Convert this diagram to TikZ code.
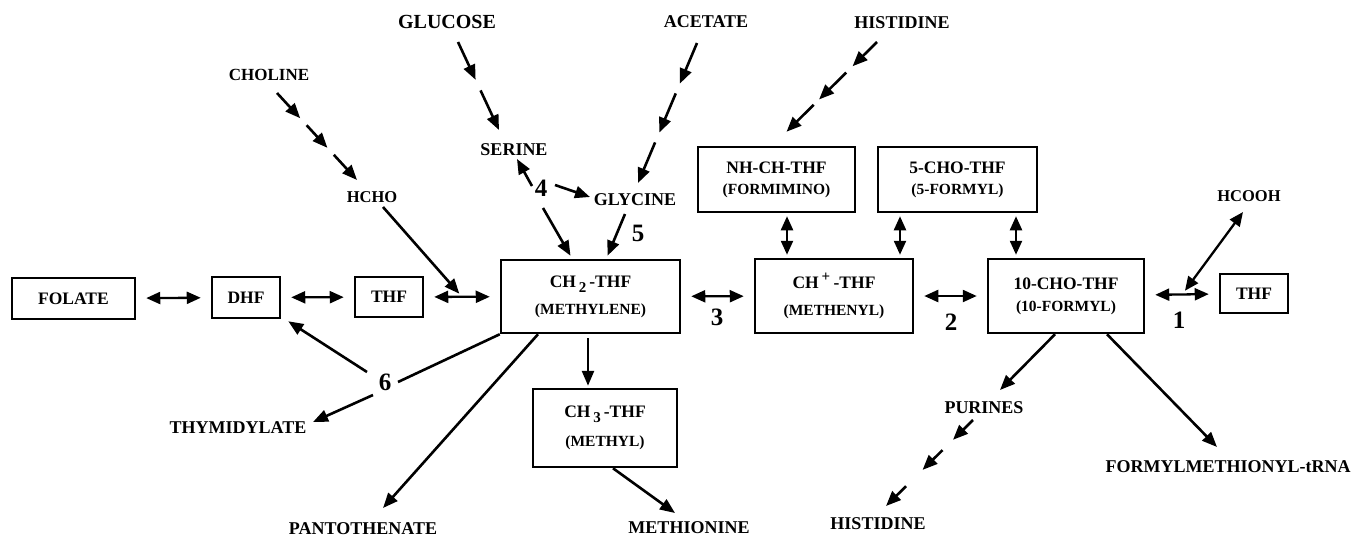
\documentclass[tikz,border=0pt]{standalone}
\usepackage{fontspec}
\setmainfont{Liberation Serif}
\usetikzlibrary{arrows.meta,calc}

\tikzset{
  box/.style={draw, line width=2.5pt, align=center, inner sep=0pt, font=\bfseries\fontsize{17.5}{20}\selectfont},
  lbl/.style={inner sep=1pt, font=\bfseries\fontsize{18}{20}\selectfont},
  num/.style={inner sep=0pt, font=\bfseries\fontsize{25}{27}\selectfont},
  arr/.style={line width=2.6pt, -{Triangle[length=15pt,width=12pt]}},
  bi/.style={line width=2.3pt, {Triangle[length=14pt,width=12pt]}-{Triangle[length=14pt,width=12pt]}},
  dbl/.style={bi, shorten <=10pt, shorten >=10pt},
  vdbl/.style={bi, shorten <=3pt, shorten >=3pt}
}
\newcommand{\subl}[1]{{\fontsize{15.5}{18}\selectfont #1}}
\newcommand{\lowr}[1]{\,\raisebox{-5pt}{\fontsize{15}{15}\selectfont #1}\,}
\newcommand{\steparrows}[3]{\foreach \p/\q in {#3} {\draw[arr] ($(#1)!\p!(#2)$) to ($(#1)!\q!(#2)$);}}

\begin{document}
\begin{tikzpicture}[x=1pt, y=-1pt]
  \useasboundingbox (0,0) rectangle (1353,539);
  \node[box, minimum width=123pt, minimum height=41pt] (fol) at (73.5, 298.5) {FOLATE};
  \node[box, minimum width=68pt, minimum height=41pt] (dhf) at (246, 297.5) {DHF};
  \node[box, minimum width=68pt, minimum height=40pt] (thf) at (389, 297) {THF};
  \node[box, minimum width=179pt, minimum height=73pt] (mle) at (590.5, 296.5) {CH\lowr{2}-THF\\[7pt]\subl{(METHYLENE)}};
  \node[box, minimum width=158pt, minimum height=74pt] (mny) at (834, 296) {CH\,\textsuperscript{\fontsize{15}{15}\selectfont +}\,-THF\\[7pt]\subl{(METHENYL)}};
  \node[box, minimum width=156pt, minimum height=74pt] (fml) at (1066, 296) {10-CHO-THF\\[2pt]\subl{(10-FORMYL)}};
  \node[box, minimum width=68pt, minimum height=39pt] (thr) at (1254, 293.5) {THF};
  \node[box, minimum width=157pt, minimum height=65pt] (fim) at (776.5, 179.5) {NH-CH-THF\\[1pt]\subl{(FORMIMINO)}};
  \node[box, minimum width=159pt, minimum height=65pt] (fiv) at (957.5, 179.5) {5-CHO-THF\\[1pt]\subl{(5-FORMYL)}};
  \node[box, minimum width=144pt, minimum height=78pt] (mth) at (605, 428) {CH\lowr{3}-THF\\[9pt]\subl{(METHYL)}};

  \node[lbl, font=\bfseries\fontsize{20}{22}\selectfont] (glu) at (447, 22) {GLUCOSE};
  \node[lbl] (ace) at (706, 22) {ACETATE};
  \node[lbl] (hit) at (902, 23) {HISTIDINE};
  \node[lbl, font=\bfseries\fontsize{17}{20}\selectfont] (cho) at (269, 75) {CHOLINE};
  \node[lbl] (ser) at (514, 150) {SERINE};
  \node[lbl] (gly) at (635, 200) {GLYCINE};
  \node[lbl, font=\bfseries\fontsize{16.5}{18}\selectfont] (hcho) at (372, 197) {HCHO};
  \node[lbl, font=\bfseries\fontsize{16.5}{18}\selectfont] (hco) at (1249, 196) {HCOOH};
  \node[lbl] (thy) at (238, 428) {THYMIDYLATE};
  \node[lbl] (pan) at (363, 529) {PANTOTHENATE};
  \node[lbl] (met) at (689, 528) {METHIONINE};
  \node[lbl] (pur) at (984, 408) {PURINES};
  \node[lbl] (hib) at (878, 524) {HISTIDINE};
  \node[lbl] (fmt) at (1228, 467) {FORMYLMETHIONYL-tRNA};
  \node[num] (n1) at (1179, 320) {1};
  \node[num] (n2) at (951, 322) {2};
  \node[num] (n3) at (717, 317) {3};
  \node[num] (n4) at (541, 188) {4};
  \node[num] (n5) at (638, 233) {5};
  \node[num] (n6) at (385, 382) {6};

  \draw[dbl] (fol) to (dhf);
  \draw[dbl] (dhf) to (thf);
  \draw[dbl] (thf) to (mle);
  \draw[dbl] (mle) to (mny);
  \draw[dbl] (mny) to (fml);
  \draw[dbl] (fml) to (thr);
  \draw[vdbl] ([xshift=10.5pt]fim.south) to ([xshift=10.5pt]fim.south |- mny.north);
  \draw[vdbl] ([xshift=-57.5pt]fiv.south) to ([xshift=-57.5pt]fiv.south |- mny.north);
  \draw[vdbl] ([xshift=58.5pt]fiv.south) to ([xshift=58.5pt]fiv.south |- fml.north);

  \coordinate (tm) at ($(thf.east)!0.5!(mle.west)$);
  \coordinate (ft) at ($(fml.east)!0.5!(thr.west)$);
  \draw[arr, shorten >=4pt] ([shift={(11,10)}]hcho.center) to (tm);
  \draw[bi, shorten >=5pt] ([shift={(-6,16)}]hco.center) to (ft);

  \coordinate (c1) at ([shift={(8,18)}]cho.center);
  \coordinate (c2) at ([shift={(-15,-17)}]hcho.center);
  \coordinate (g1) at ([shift={(11,20)}]glu.center);
  \coordinate (g2) at ([shift={(-15,-20)}]ser.center);
  \coordinate (a1) at ([shift={(-9,21)}]ace.center);
  \coordinate (a2) at ([shift={(3,-17)}]gly.center);
  \coordinate (h1) at ([shift={(-25,19)}]hit.center);
  \coordinate (h2) at ([shift={(10,-14)}]fim.north);
  \coordinate (p1) at ([shift={(-11,12)}]pur.center);
  \coordinate (p2) at ([shift={(8,-18)}]hib.center);
  \steparrows{c1}{c2}{0/0.29, 0.37/0.63, 0.71/1}
  \steparrows{g1}{g2}{0/0.43, 0.55/1}
  \steparrows{a1}{a2}{0/0.29, 0.36/0.64, 0.71/1}
  \steparrows{h1}{h2}{0/0.27, 0.34/0.64, 0.70/1}
  \steparrows{p1}{p2}{0/0.23, 0.35/0.58, 0.77/1}

  \draw[arr] ([shift={(-9,-2)}]n4.center) to ([shift={(3,9)}]ser.center);
  \draw[arr] ([shift={(14,-3)}]n4.center) to ([shift={(-45,-3)}]gly.center);
  \draw[arr] ([shift={(2,20)}]n4.center) to ([shift={(-20,-3)}]mle.north);
  \draw[arr] ([shift={(-10,14)}]gly.center) to ([shift={(17,-3)}]mle.north);
  \draw[arr] ([shift={(-11,0)}]fml.south) to ([shift={(16,-18)}]pur.center);
  \draw[arr] ([shift={(41,0)}]fml.south) to ([shift={(-11,-20)}]fmt.center);
  \draw[line width=2.6pt] (mle.south west) to ([shift={(13,0)}]n6.center);
  \draw[arr] ([shift={(-18,-10)}]n6.center) to ([shift={(7,2)}]dhf.south east);
  \draw[arr] ([shift={(-12,13)}]n6.center) to ([shift={(75,-6)}]thy.center);
  \draw[arr] ([xshift=-52.5pt]mle.south) to ([shift={(20,-21)}]pan.center);
  \draw[arr, shorten <=4pt, shorten >=2pt] ([xshift=-2.5pt]mle.south) to ([xshift=-2.5pt]mle.south |- mth.north);
  \draw[arr] ([xshift=8pt]mth.south) to ([shift={(-14,-15)}]met.center);
\end{tikzpicture}
\end{document}
